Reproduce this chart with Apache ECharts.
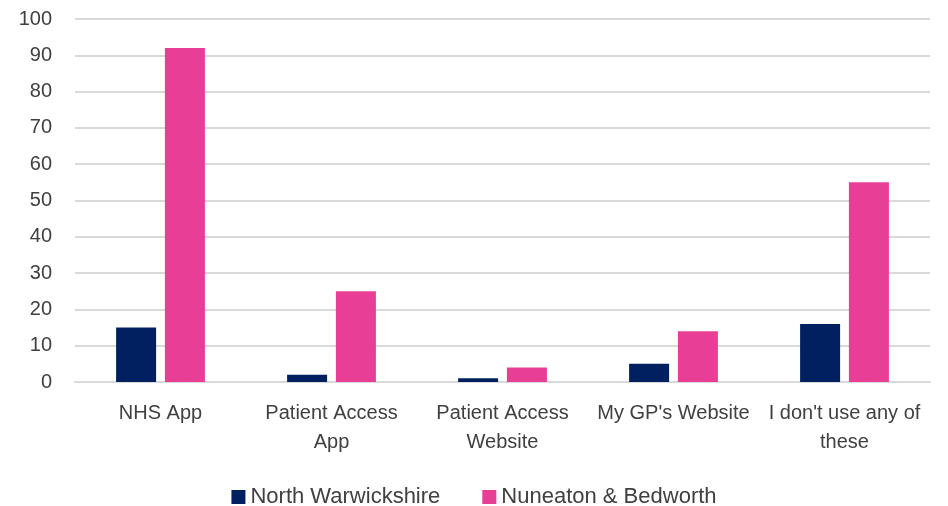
<!DOCTYPE html>
<html>
    <head>
        <meta charset="utf-8" />
        <script src="https://cdn.jsdelivr.net/npm/echarts@6/dist/echarts.min.js"></script>
        <style>
            html,
            body,
            #main {
                margin: 0;
                width: 948px;
                height: 506px;
                background: #fff;
            }
        </style>
    </head>
    <body>
        <div id="main"></div>
        <script>
            var categories = [
                "NHS App",
                "Patient Access\nApp",
                "Patient Access\nWebsite",
                "My GP's Website",
                "I don't use any of\nthese"
            ];
            var northWarwickshire = [15, 2, 1, 5, 16];
            var nuneatonBedworth = [92, 25, 4, 14, 55];

            var chart = echarts.init(document.getElementById("main"), null, {
                renderer: "canvas"
            });

            var textColor = "#404040";
            var font = "Liberation Sans";

            chart.setOption({
                animation: false,
                grid: {
                    left: 75,
                    right: 18,
                    top: 19,
                    bottom: 124
                },
                legend: {
                    top: 481,
                    left: "center",
                    itemWidth: 14,
                    itemHeight: 14,
                    itemGap: 42,
                    icon: "rect",
                    textStyle: { color: textColor, fontSize: 22, fontFamily: font },
                    data: ["North Warwickshire", "Nuneaton & Bedworth"]
                },
                xAxis: {
                    type: "category",
                    data: categories,
                    axisLine: { lineStyle: { color: "#d9d9d9", width: 2 } },
                    axisTick: { show: false },
                    axisLabel: {
                        interval: 0,
                        color: textColor,
                        fontSize: 20,
                        fontFamily: font,
                        lineHeight: 29,
                        margin: 17
                    }
                },
                yAxis: {
                    type: "value",
                    min: 0,
                    max: 100,
                    interval: 10,
                    axisLine: { show: false },
                    axisTick: { show: false },
                    splitLine: { lineStyle: { color: "#d9d9d9", width: 2 } },
                    axisLabel: {
                        color: textColor,
                        fontSize: 20,
                        fontFamily: font,
                        margin: 23
                    }
                },
                series: [
                    {
                        name: "North Warwickshire",
                        type: "bar",
                        data: northWarwickshire,
                        barWidth: 40,
                        barGap: "22%",
                        itemStyle: { color: "#002060" }
                    },
                    {
                        name: "Nuneaton & Bedworth",
                        type: "bar",
                        data: nuneatonBedworth,
                        barWidth: 40,
                        itemStyle: { color: "#e83e96" }
                    }
                ]
            });
        </script>
    </body>
</html>
